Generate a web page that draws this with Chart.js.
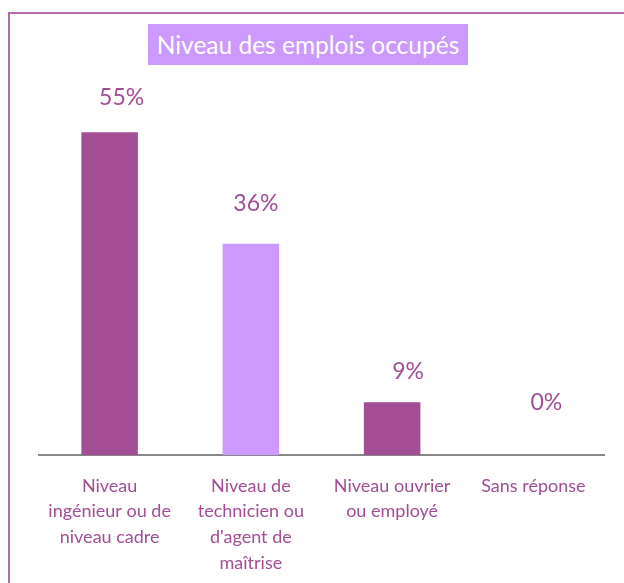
<!DOCTYPE html>
<html>
<head>
<meta charset="utf-8">
<script src="https://cdn.jsdelivr.net/npm/chart.js@4"></script>
<style>
  body { margin: 0; background: #fff; }
  #wrap { position: relative; width: 624px; height: 583px; overflow: hidden; }
  #frame { position: absolute; left: 8px; top: 12px; width: 700px; height: 700px; border: 2px solid #B26AAD; box-sizing: border-box; }
  #title { position: absolute; left: 148px; top: 24px; width: 320px; height: 41px; background: #CC99FF; color: #fff;
           font: 24.5px Lato, sans-serif; line-height: 41px; text-align: center; }
  canvas { position: absolute; left: 0; top: 0; }
</style>
</head>
<body>
<div id="wrap">
  <div id="frame"></div>
  <canvas id="myChart" width="624" height="583"></canvas>
  <div id="title">Niveau des emplois occupés</div>
</div>
<script>
// categories and values
var categories = [
  ["Niveau", "ingénieur ou de", "niveau cadre"],
  ["Niveau de", "technicien ou", "d'agent de", "maîtrise"],
  ["Niveau ouvrier", "ou employé"],
  ["Sans réponse"]
];
var values = [55, 36, 9, 0];
var barColors = ["#A24D94", "#CC99FF", "#A24D94", "#A24D94"];

var labelColor = "#A24D94";

// draws the percentage labels above each bar
var valueLabels = {
  id: "valueLabels",
  afterDatasetsDraw: function(chart, args, opts) {
    var ctx = chart.ctx;
    var meta = chart.getDatasetMeta(0);
    ctx.save();
    ctx.font = "23px Lato, sans-serif";
    ctx.fillStyle = labelColor;
    ctx.textAlign = "center";
    ctx.textBaseline = "middle";
    meta.data.forEach(function(bar, i) {
      ctx.fillText(values[i] + "%", bar.x + opts.dx[i], bar.y - opts.dy[i]);
    });
    ctx.restore();
  }
};

new Chart("myChart", {
  type: "bar",
  data: {
    labels: categories,
    datasets: [{
      data: values,
      backgroundColor: barColors,
      barPercentage: 0.4,
      categoryPercentage: 1
    }]
  },
  options: {
    responsive: false,
    animation: false,
    layout: { padding: { top: 103, left: 39, right: 20, bottom: 0 } },
    plugins: {
      legend: { display: false },
      tooltip: { enabled: false },
      valueLabels: { dx: [12, 5, 16, 13], dy: [35, 40, 31, 52] }
    },
    scales: {
      y: { display: false, min: 0, max: 60 },
      x: {
        grid: { display: false, drawTicks: false },
        border: { color: "#878787", width: 2 },
        ticks: {
          color: labelColor,
          font: { family: "Lato, sans-serif", size: 18, lineHeight: 1.43 },
          padding: 18,
          maxRotation: 0,
          autoSkip: false
        },
        afterFit: function(scale) { scale.height = 128; }
      }
    }
  },
  plugins: [valueLabels]
});
</script>
</body>
</html>
